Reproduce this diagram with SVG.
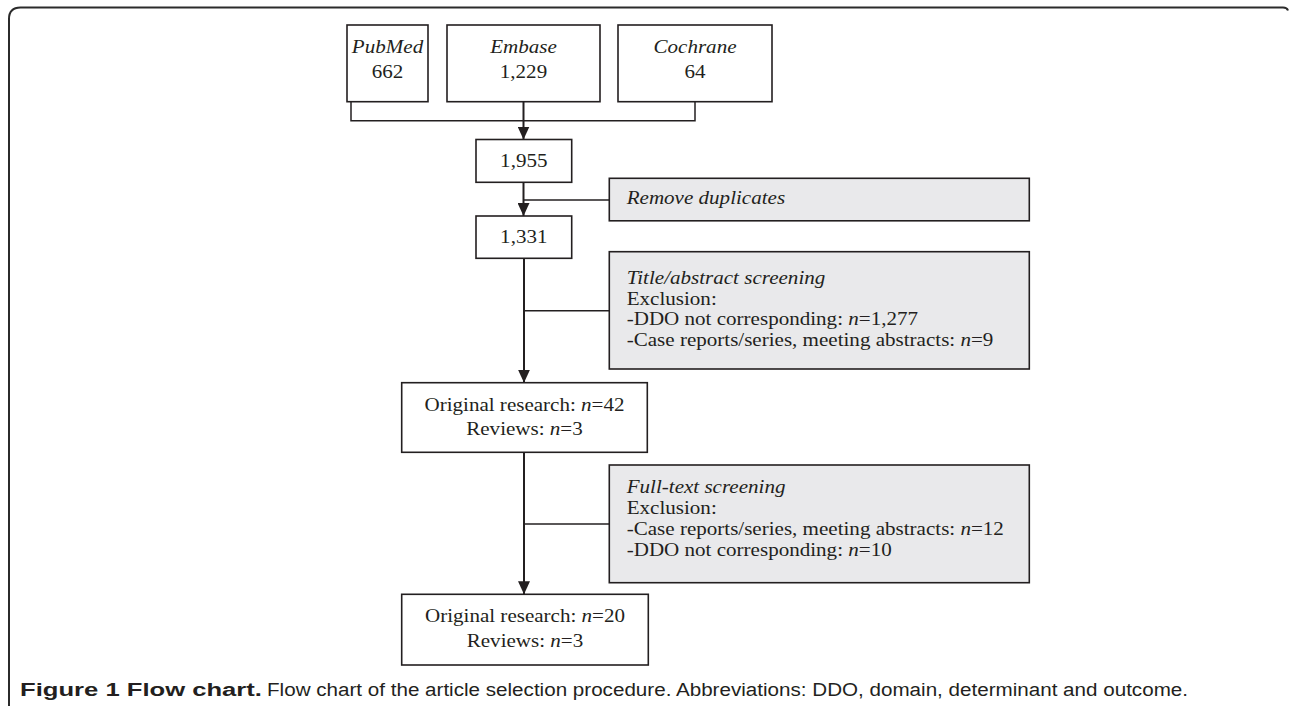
<svg xmlns="http://www.w3.org/2000/svg" width="1290" height="708" viewBox="0 0 1290 708">
<defs>
<style>
.box{fill:#ffffff;stroke:#231f20;stroke-width:1.6}
.gbox{fill:#e9e9eb;stroke:#231f20;stroke-width:1.6}
.t{font-family:"Liberation Serif","Times New Roman",serif;font-size:18px;fill:#231f20}
.c{text-anchor:middle}
.i{font-style:italic}
.ln{fill:none;stroke:#231f20;stroke-width:1.5}
.ar{fill:none;stroke:#231f20;stroke-width:2}
.cap{font-family:"Liberation Sans",Arial,sans-serif;font-size:18px;fill:#231f20}
</style>
<marker id="ah" markerUnits="userSpaceOnUse" markerWidth="13" markerHeight="12" refX="13" refY="6" orient="auto">
<path d="M0,0 L13,6 L0,12 z" fill="#231f20"/>
</marker>
</defs>
<rect width="1290" height="708" fill="#ffffff"/>
<path d="M9,706 V19 Q9,7.5 20.5,7.5 H1283 Q1287,7.5 1288,10.5" fill="none" stroke="#2b2b2b" stroke-width="2"/>

<g id="connectors">
<path class="ln" d="M351,101.7 V120.7 H695 V101.7"/>
<line class="ar" x1="523.5" y1="101.7" x2="523.5" y2="139.5" marker-end="url(#ah)"/>
<line class="ar" x1="523.5" y1="182.3" x2="523.5" y2="216" marker-end="url(#ah)"/>
<line class="ln" x1="523.5" y1="200" x2="609.3" y2="200"/>
<line class="ar" x1="524" y1="258.3" x2="524" y2="382.7" marker-end="url(#ah)"/>
<line class="ln" x1="524" y1="310.7" x2="609.3" y2="310.7"/>
<line class="ar" x1="524" y1="452.3" x2="524" y2="594.3" marker-end="url(#ah)"/>
<line class="ln" x1="524" y1="524" x2="609.3" y2="524"/>
</g>

<g id="pubmed">
<rect class="box" x="347" y="25" width="81" height="76.7"/>
<text class="t c i" transform="translate(387.5,0) scale(1.17,1)" x="0" y="53.3">PubMed</text>
<text class="t c" transform="translate(387.5,0) scale(1.17,1)" x="0" y="78.3">662</text>
</g>
<g id="embase">
<rect class="box" x="447" y="25" width="153" height="76.7"/>
<text class="t c i" transform="translate(523.5,0) scale(1.17,1)" x="0" y="53.3">Embase</text>
<text class="t c" transform="translate(523.5,0) scale(1.17,1)" x="0" y="78.3">1,229</text>
</g>
<g id="cochrane">
<rect class="box" x="618" y="25" width="154" height="76.7"/>
<text class="t c i" transform="translate(695,0) scale(1.17,1)" x="0" y="53.3">Cochrane</text>
<text class="t c" transform="translate(695,0) scale(1.17,1)" x="0" y="78.3">64</text>
</g>
<g id="n1955">
<rect class="box" x="476" y="139.5" width="95.7" height="42.8"/>
<text class="t c" transform="translate(523.8,0) scale(1.17,1)" x="0" y="166.7">1,955</text>
</g>
<g id="dup">
<rect class="gbox" x="609.3" y="178.3" width="420" height="42.5"/>
<text class="t i" transform="translate(626.7,0) scale(1.17,1)" x="0" y="204">Remove duplicates</text>
</g>
<g id="n1331">
<rect class="box" x="476" y="216" width="95.7" height="42.3"/>
<text class="t c" transform="translate(523.8,0) scale(1.17,1)" x="0" y="243.3">1,331</text>
</g>
<g id="titlescreen">
<rect class="gbox" x="609.3" y="251.7" width="420" height="117.3"/>
<g transform="translate(626.7,0) scale(1.17,1)">
<text class="t i" x="0" y="284.5">Title/abstract screening</text>
<text class="t" x="0" y="305">Exclusion:</text>
<text class="t" x="0" y="325.5">-DDO not corresponding: <tspan class="i">n</tspan>=1,277</text>
<text class="t" x="0" y="346">-Case reports/series, meeting abstracts: <tspan class="i">n</tspan>=9</text>
</g>
</g>
<g id="research1">
<rect class="box" x="401.7" y="382.7" width="245.6" height="69.6"/>
<text class="t c" transform="translate(524.5,0) scale(1.17,1)" x="0" y="410.7">Original research: <tspan class="i">n</tspan>=42</text>
<text class="t c" transform="translate(524.5,0) scale(1.17,1)" x="0" y="435">Reviews: <tspan class="i">n</tspan>=3</text>
</g>
<g id="fulltext">
<rect class="gbox" x="609.3" y="465" width="420" height="117.7"/>
<g transform="translate(626.7,0) scale(1.17,1)">
<text class="t i" x="0" y="493.5">Full-text screening</text>
<text class="t" x="0" y="514">Exclusion:</text>
<text class="t" x="0" y="535">-Case reports/series, meeting abstracts: <tspan class="i">n</tspan>=12</text>
<text class="t" x="0" y="556">-DDO not corresponding: <tspan class="i">n</tspan>=10</text>
</g>
</g>
<g id="research2">
<rect class="box" x="401.7" y="594.3" width="246.6" height="70.7"/>
<text class="t c" transform="translate(525,0) scale(1.17,1)" x="0" y="622.5">Original research: <tspan class="i">n</tspan>=20</text>
<text class="t c" transform="translate(525,0) scale(1.17,1)" x="0" y="646.7">Reviews: <tspan class="i">n</tspan>=3</text>
</g>

<g id="caption">
<text class="cap" x="20" y="696" font-weight="bold" textLength="242" lengthAdjust="spacingAndGlyphs">Figure 1 Flow chart.</text>
<text class="cap" x="267" y="696" textLength="921" lengthAdjust="spacingAndGlyphs">Flow chart of the article selection procedure. Abbreviations: DDO, domain, determinant and outcome.</text>
</g>
</svg>
